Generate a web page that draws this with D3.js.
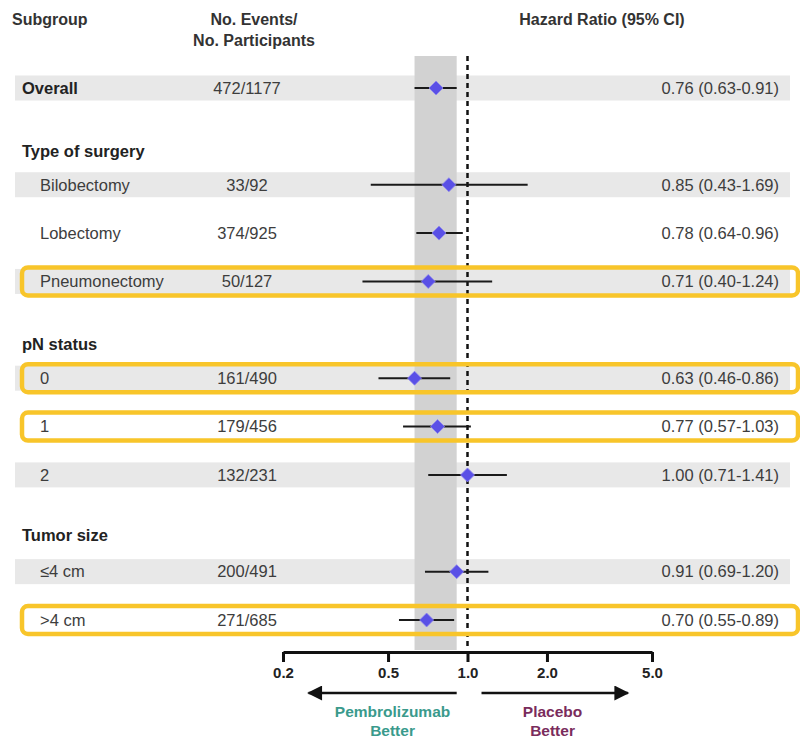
<!DOCTYPE html>
<html>
<head>
<meta charset="utf-8">
<script src="https://cdn.jsdelivr.net/npm/d3@7"></script>
<style>
  body { margin: 0; background: #fff; }
  text { font-family: "Liberation Sans", Arial, sans-serif; fill: #333; }
</style>
</head>
<body>
<svg width="800" height="741"></svg>
<script>
// Data
var labels = ["Overall", "Type of surgery", "Bilobectomy", "Lobectomy", "Pneumonectomy",
    "pN status", "0", "1", "2", "Tumor size", "\u22644 cm", ">4 cm"];
var kinds = ["overall", "heading", "sub", "sub", "sub", "heading", "sub", "sub", "sub", "heading", "sub", "sub"];
var slots = [0, 1.3, 2, 3, 4, 5.3, 6, 7, 8, 9.25, 10, 11];
var events = ["472/1177", "", "33/92", "374/925", "50/127", "", "161/490", "179/456", "132/231", "", "200/491", "271/685"];
var hr = [0.76, null, 0.85, 0.78, 0.71, null, 0.63, 0.77, 1.00, null, 0.91, 0.70];
var lower = [0.63, null, 0.43, 0.64, 0.40, null, 0.46, 0.57, 0.71, null, 0.69, 0.55];
var upper = [0.91, null, 1.69, 0.96, 1.24, null, 0.86, 1.03, 1.41, null, 1.20, 0.89];
var shaded = [true, false, true, false, true, false, true, false, true, false, true, false];
var highlighted = [false, false, false, false, true, false, true, true, false, false, false, true];
var tickValues = [0.2, 0.5, 1.0, 2.0, 5.0];

var rows = labels.map(function (l, i) {
    return {label: l, kind: kinds[i], slot: slots[i], events: events[i],
        hr: hr[i], lo: lower[i], hi: upper[i], shaded: shaded[i], hl: highlighted[i]};
});
var dataRows = rows.filter(d => d.hr != null);

var svg = d3.select("svg");

var x = d3.scaleLog().domain([0.2, 5]).range([283, 652]);
var y = d3.scaleLinear().domain([0, 11]).range([88, 620]);

var axisY = 652;
var plotTop = 56;
var fs = 16.5;

// row stripes
svg.append("g").selectAll("rect")
    .data(rows.filter(d => d.shaded))
    .enter().append("rect")
    .attr("x", 15)
    .attr("width", 775)
    .attr("y", d => y(d.slot) - 12.5)
    .attr("height", 25)
    .attr("fill", "#e8e8e8");

// overall CI band
var overall = rows[0];
svg.append("rect")
    .attr("x", x(overall.lo))
    .attr("width", x(overall.hi) - x(overall.lo))
    .attr("y", plotTop)
    .attr("height", axisY - plotTop - 2)
    .attr("fill", "#d2d2d2");

// reference line
svg.append("line")
    .attr("x1", x(1)).attr("x2", x(1))
    .attr("y1", plotTop).attr("y2", axisY - 3)
    .attr("stroke", "#111")
    .attr("stroke-width", 2.5)
    .attr("stroke-dasharray", "5,4");

// header
svg.append("text").attr("x", 12).attr("y", 25)
    .attr("font-size", 16).attr("font-weight", "bold").text("Subgroup");
svg.append("text").attr("x", 254).attr("y", 25).attr("text-anchor", "middle")
    .attr("font-size", 16).attr("font-weight", "bold").text("No. Events/");
svg.append("text").attr("x", 254).attr("y", 46).attr("text-anchor", "middle")
    .attr("font-size", 16).attr("font-weight", "bold").text("No. Participants");
svg.append("text").attr("x", 602).attr("y", 25).attr("text-anchor", "middle")
    .attr("font-size", 16).attr("font-weight", "bold").text("Hazard Ratio (95% CI)");

// row labels
svg.append("g").selectAll("text")
    .data(rows)
    .enter().append("text")
    .attr("x", d => d.kind == "sub" ? 40 : 22)
    .attr("y", d => y(d.slot))
    .attr("dy", "0.35em")
    .attr("font-size", fs)
    .attr("font-weight", d => d.kind == "sub" ? "normal" : "bold")
    .style("fill", d => d.kind == "sub" ? "#3d3d3d" : "#222")
    .text(d => d.label);

// events
svg.append("g").selectAll("text")
    .data(dataRows)
    .enter().append("text")
    .attr("x", 247)
    .attr("y", d => y(d.slot))
    .attr("dy", "0.35em")
    .attr("text-anchor", "middle")
    .attr("font-size", fs)
    .style("fill", "#3d3d3d")
    .text(d => d.events);

// hazard ratio text
svg.append("g").selectAll("text")
    .data(dataRows)
    .enter().append("text")
    .attr("x", 779)
    .attr("y", d => y(d.slot))
    .attr("dy", "0.35em")
    .attr("text-anchor", "end")
    .attr("font-size", fs)
    .style("fill", "#3d3d3d")
    .text(d => d.hr.toFixed(2) + " (" + d.lo.toFixed(2) + "-" + d.hi.toFixed(2) + ")");

// CI lines
svg.append("g").selectAll("line")
    .data(dataRows)
    .enter().append("line")
    .attr("x1", d => x(d.lo))
    .attr("x2", d => x(d.hi))
    .attr("y1", d => y(d.slot))
    .attr("y2", d => y(d.slot))
    .attr("stroke", "#1a1a1a")
    .attr("stroke-width", 2);

// diamonds
svg.append("g").selectAll("path")
    .data(dataRows)
    .enter().append("path")
    .attr("transform", d => "translate(" + x(d.hr) + "," + y(d.slot) + ")")
    .attr("d", "M0,-7L7,0L0,7L-7,0Z")
    .attr("fill", "#5a50e6")
    .attr("stroke", "#8f88f0")
    .attr("stroke-width", 0.8);

// highlight boxes
svg.append("g").selectAll("rect")
    .data(rows.filter(d => d.hl))
    .enter().append("rect")
    .attr("x", 22)
    .attr("width", 776)
    .attr("y", d => y(d.slot) - 14)
    .attr("height", 28)
    .attr("rx", 6)
    .attr("fill", "none")
    .attr("stroke", "#f8c52a")
    .attr("stroke-width", 4.5);

// axis
var axis = svg.append("g")
    .attr("transform", "translate(0," + axisY + ")")
    .call(d3.axisBottom(x).tickValues(tickValues).tickFormat(d3.format(".1f"))
        .tickSize(10).tickPadding(5).tickSizeOuter(0));
axis.select(".domain").attr("stroke", "#111").attr("stroke-width", 3);
axis.selectAll(".tick line").attr("stroke", "#111").attr("stroke-width", 3);
axis.selectAll(".tick text")
    .style("font-size", "15px")
    .style("font-weight", "bold")
    .style("fill", "#222")
    .style("font-family", "'Liberation Sans', Arial, sans-serif");

// direction arrows
var defs = svg.append("defs");
defs.append("marker")
    .attr("id", "head")
    .attr("viewBox", "0 0 10 10")
    .attr("refX", 9).attr("refY", 5)
    .attr("markerWidth", 7).attr("markerHeight", 6)
    .attr("markerUnits", "strokeWidth")
    .attr("orient", "auto")
    .append("path").attr("d", "M0,0L10,5L0,10Z").attr("fill", "#111");

var arrowY = 693;
var leftArrow = [0.91, 0.25];
var rightArrow = [1.13, 4.05];
svg.append("line")
    .attr("x1", x(leftArrow[0])).attr("x2", x(leftArrow[1]))
    .attr("y1", arrowY).attr("y2", arrowY)
    .attr("stroke", "#111").attr("stroke-width", 2.5)
    .attr("marker-end", "url(#head)");
svg.append("line")
    .attr("x1", x(rightArrow[0])).attr("x2", x(rightArrow[1]))
    .attr("y1", arrowY).attr("y2", arrowY)
    .attr("stroke", "#111").attr("stroke-width", 2.5)
    .attr("marker-end", "url(#head)");

var leftMid = 0.52, rightMid = 2.1;
[["Pembrolizumab", 717], ["Better", 736]].forEach(function (t) {
    svg.append("text").attr("x", x(leftMid)).attr("y", t[1])
        .attr("text-anchor", "middle").attr("font-size", 15.5).attr("font-weight", "bold")
        .style("fill", "#3a9a8c").text(t[0]);
});
[["Placebo", 717], ["Better", 736]].forEach(function (t) {
    svg.append("text").attr("x", x(rightMid)).attr("y", t[1])
        .attr("text-anchor", "middle").attr("font-size", 15.5).attr("font-weight", "bold")
        .style("fill", "#7a2c5c").text(t[0]);
});
</script>
</body>
</html>
